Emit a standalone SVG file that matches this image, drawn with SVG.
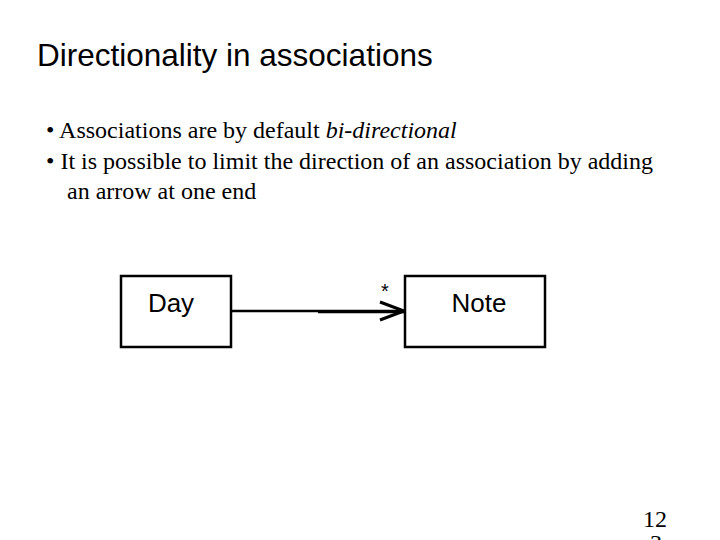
<svg xmlns="http://www.w3.org/2000/svg" width="720" height="540" viewBox="0 0 720 540">
<style>
.t{font-family:"Liberation Serif",serif;font-size:24px;fill:#000}
.s{font-family:"Liberation Sans",Arial,sans-serif;fill:#000}
.box{fill:#fff;stroke:#000;stroke-width:2.5}
</style>
<rect width="720" height="540" fill="#fff"/>
<text class="s" x="37" y="66" font-size="31.5">Directionality in associations</text>
<text class="t" x="46" y="138">• Associations are by default <tspan font-style="italic">bi-directional</tspan></text>
<text class="t" x="46" y="169">• It is possible to limit the direction of an association by adding</text>
<text class="t" x="67" y="199">an arrow at one end</text>
<g id="connectors" stroke="#000" fill="none">
<line x1="231" y1="311" x2="318" y2="311" stroke-width="2.5"/>
<line x1="318" y1="311.5" x2="404" y2="311.5" stroke-width="3.5"/>
<polyline points="380,302 404,311 380,320" stroke-width="3"/>
<text class="s" x="381" y="298" font-size="20" stroke="none" fill="#000">*</text>
</g>
<g id="day"><rect class="box" x="121" y="276" width="110" height="71"/><text class="s" x="171" y="312" font-size="26" text-anchor="middle">Day</text></g>
<g id="note"><rect class="box" x="405" y="276" width="140" height="71"/><text class="s" x="479" y="312" font-size="26" text-anchor="middle">Note</text></g>
<text class="t" x="655" y="527" font-size="22" text-anchor="middle">12</text>
<text class="t" x="656" y="551" font-size="22" text-anchor="middle">3</text>
</svg>
